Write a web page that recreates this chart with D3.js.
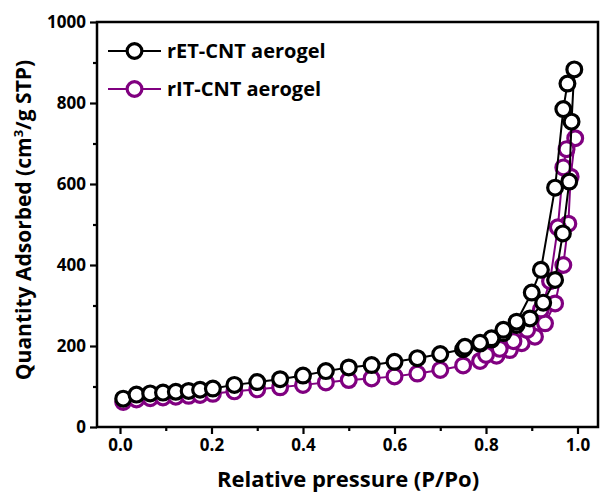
<!DOCTYPE html>
<html>
<head>
<meta charset="utf-8">
<script src="https://cdn.jsdelivr.net/npm/d3@7"></script>
<style>
  html, body { margin: 0; padding: 0; background: #fff; }
  svg { display: block; font-family: "Open Sans", Lato, sans-serif; font-weight: bold; }
</style>
</head>
<body>
<svg id="chart" width="600" height="495"></svg>
<script>
// Nitrogen sorption isotherms (adsorption branch followed by desorption branch)
const seriesNames = ["rET-CNT aerogel", "rIT-CNT aerogel"];
const seriesColors = ["#000000", "#800080"];

const etPressure = [0.007, 0.036, 0.066, 0.094, 0.122, 0.15, 0.175, 0.203, 0.25, 0.30, 0.35, 0.40, 0.45, 0.50, 0.55, 0.60, 0.65, 0.70, 0.75, 0.787, 0.812, 0.838, 0.867, 0.896, 0.925, 0.951, 0.968, 0.982, 0.987, 0.993,
                    0.978, 0.969, 0.951, 0.92, 0.90, 0.867, 0.838, 0.812, 0.787, 0.754];
const etQuantity = [70, 80, 83, 85, 87, 89, 92, 95, 104, 111, 118, 127, 138, 147, 153, 161, 170, 180, 192, 206, 216, 232, 252, 268, 307, 363, 478, 606, 754, 883,
                    848, 785, 591, 388, 332, 260, 240, 219, 208, 198];

const itPressure = [0.007, 0.036, 0.066, 0.094, 0.122, 0.15, 0.175, 0.203, 0.25, 0.30, 0.35, 0.40, 0.45, 0.50, 0.55, 0.60, 0.65, 0.70, 0.75, 0.787, 0.823, 0.852, 0.878, 0.907, 0.929, 0.951, 0.969, 0.98, 0.985, 0.995,
                    0.976, 0.969, 0.957, 0.94, 0.92, 0.89, 0.86, 0.83, 0.80];
const itQuantity = [62, 68, 71, 73, 75, 77, 79, 82, 88, 93, 98, 104, 110, 116, 120, 125, 132, 141, 152, 163, 176, 190, 207, 223, 256, 305, 400, 502, 618, 713,
                    686, 641, 493, 360, 290, 240, 212, 193, 178];

const xTickValues = [0, 0.2, 0.4, 0.6, 0.8, 1.0];
const xMinorTicks = [0.1, 0.3, 0.5, 0.7, 0.9];
const yTickValues = [0, 200, 400, 600, 800, 1000];
const yMinorTicks = [100, 300, 500, 700, 900];

const svg = d3.select("#chart");
const frame = { left: 97, right: 598, top: 22, bottom: 427 };

const x = d3.scaleLinear().domain([0, 1]).range([120, 577.5]);
const y = d3.scaleLinear().domain([0, 1000]).range([427, 22]);

function styleAxis(g) {
  g.selectAll(".domain").remove();
  g.selectAll("line").attr("stroke", "#000").attr("stroke-width", 2.2);
  g.selectAll("text")
    .attr("font-size", 17).attr("font-weight", "bold")
    .attr("font-family", "'Open Sans', sans-serif").attr("fill", "#000");
}

// X axis: labelled major ticks and shorter minor ticks, drawn outward
svg.append("g").attr("transform", `translate(0,${frame.bottom})`)
  .call(d3.axisBottom(x).tickValues(xTickValues).tickFormat(d3.format(".1f")).tickSize(7).tickPadding(5))
  .call(styleAxis);
svg.append("g").attr("transform", `translate(0,${frame.bottom})`)
  .call(d3.axisBottom(x).tickValues(xMinorTicks).tickFormat("").tickSize(4))
  .call(styleAxis);

// Y axis
svg.append("g").attr("transform", `translate(${frame.left},0)`)
  .call(d3.axisLeft(y).tickValues(yTickValues).tickFormat(d3.format("d")).tickSize(7).tickPadding(4))
  .call(styleAxis);
svg.append("g").attr("transform", `translate(${frame.left},0)`)
  .call(d3.axisLeft(y).tickValues(yMinorTicks).tickFormat("").tickSize(4))
  .call(styleAxis);

// Plot frame
svg.append("rect")
  .attr("x", frame.left).attr("y", frame.top)
  .attr("width", frame.right - frame.left).attr("height", frame.bottom - frame.top)
  .attr("fill", "none").attr("stroke", "#000").attr("stroke-width", 2.5);

// Axis titles
svg.append("text")
  .attr("x", 348).attr("y", 487)
  .attr("text-anchor", "middle").attr("font-size", 22)
  .text("Relative pressure (P/Po)");

const yTitle = svg.append("text")
  .attr("transform", "translate(31,220) rotate(-90)")
  .attr("text-anchor", "middle").attr("font-size", 21);
yTitle.append("tspan").text("Quantity Adsorbed (cm");
yTitle.append("tspan").text("3").attr("font-size", 13).attr("dy", -8);
yTitle.append("tspan").text("/g STP)").attr("dy", 8);

// Series: connecting line, then open circle markers
const series = [
  { name: seriesNames[1], color: seriesColors[1], p: itPressure, q: itQuantity },
  { name: seriesNames[0], color: seriesColors[0], p: etPressure, q: etQuantity }
];
const line = d3.line().x(d => x(d[0])).y(d => y(d[1]));

series.forEach(s => {
  const pts = s.p.map((p, i) => [p, s.q[i]]);
  const g = svg.append("g");
  g.append("path").datum(pts)
    .attr("d", line).attr("fill", "none")
    .attr("stroke", s.color).attr("stroke-width", 2);
  g.selectAll("circle").data(pts).join("circle")
    .attr("cx", d => x(d[0])).attr("cy", d => y(d[1]))
    .attr("r", 7.4)
    .attr("fill", "#fff").attr("stroke", s.color).attr("stroke-width", 3.2);
});

// Legend
const legend = svg.append("g");
seriesNames.forEach((name, i) => {
  const ly = 51 + i * 38;
  legend.append("line").attr("x1", 108).attr("x2", 161).attr("y1", ly).attr("y2", ly)
    .attr("stroke", seriesColors[i]).attr("stroke-width", 2);
  legend.append("circle").attr("cx", 134.5).attr("cy", ly).attr("r", 7.4)
    .attr("fill", "#fff").attr("stroke", seriesColors[i]).attr("stroke-width", 3.2);
  legend.append("text").attr("x", 167).attr("y", ly + 7)
    .attr("font-size", 20).attr("fill", "#000").text(name);
});
</script>
</body>
</html>
